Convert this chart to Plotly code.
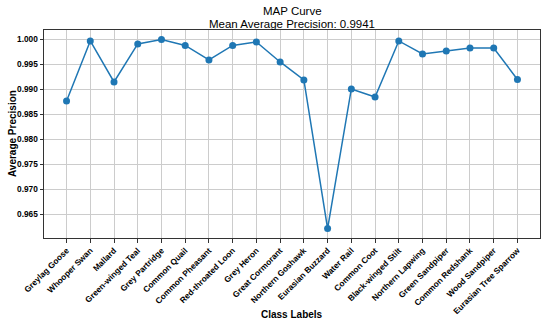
import plotly.graph_objects as go

classes = ["Greylag Goose", "Whooper Swan", "Mallard", "Green-winged Teal", "Grey Partridge",
           "Common Quail", "Common Pheasant", "Red-throated Loon", "Grey Heron", "Great Cormorant",
           "Northern Goshawk", "Eurasian Buzzard", "Water Rail", "Common Coot", "Black-winged Stilt",
           "Northern Lapwing", "Green Sandpiper", "Common Redshank", "Wood Sandpiper", "Eurasian Tree Sparrow"]
ap_values = [0.9877, 0.9997, 0.9915, 0.9991, 1.0000,
             0.9988, 0.9959, 0.9988, 0.9995, 0.9955,
             0.9919, 0.9622, 0.9901, 0.9885, 0.9997,
             0.9971, 0.9977, 0.9983, 0.9983, 0.9920]
mean_ap = 0.9941
y_ticks = [0.965, 0.970, 0.975, 0.980, 0.985, 0.990, 0.995, 1.000]

idx = list(range(len(classes)))
ymin, ymax = min(ap_values), max(ap_values)
pad = (ymax - ymin) * 0.05
xpad = (len(classes) - 1) * 0.05

W, H = 550, 328
L, R, T, B = 44, 10, 30, 90
pw, ph = W - L - R, H - T - B


def px_x(x):
    return (x - L) / pw


def px_y(y):
    return (H - B - y) / ph


fig = go.Figure(go.Scatter(
    x=idx, y=ap_values, mode="lines+markers",
    line=dict(color="#1f77b4", width=1.5),
    marker=dict(color="#1f77b4", size=7),
))

font = "Liberation Sans, Arial, sans-serif"
fig.update_layout(
    width=W, height=H,
    margin=dict(l=L, r=R, t=T, b=B, autoexpand=False),
    paper_bgcolor="white", plot_bgcolor="white",
    font=dict(family=font, color="black"),
    showlegend=False,
    annotations=[
        dict(text="MAP Curve", xref="paper", yref="paper", x=0.5, y=px_y(11),
             xanchor="center", yanchor="middle", showarrow=False,
             font=dict(size=11.5, family=font, color="black")),
        dict(text="Mean Average Precision: %.4f" % mean_ap, xref="paper", yref="paper",
             x=0.5, y=px_y(23.5), xanchor="center", yanchor="middle", showarrow=False,
             font=dict(size=11.5, family=font, color="black")),
        dict(text="<b>Class Labels</b>", xref="paper", yref="paper", x=0.5, y=px_y(314),
             xanchor="center", yanchor="middle", showarrow=False,
             font=dict(size=10, family=font, color="black")),
        dict(text="<b>Average Precision</b>", xref="paper", yref="paper", x=px_x(12), y=0.5,
             xanchor="center", yanchor="middle", textangle=-90, showarrow=False,
             font=dict(size=10, family=font, color="black")),
    ],
)
fig.update_xaxes(
    range=[-xpad, len(classes) - 1 + xpad], automargin=False,
    tickmode="array", tickvals=idx, ticktext=["<b>%s</b>" % c for c in classes],
    tickangle=-45, tickfont=dict(size=8.3, family=font),
    ticks="outside", ticklen=3.5, tickcolor="#333333",
    showgrid=True, gridcolor="#cccccc", gridwidth=0.8,
    showline=True, linecolor="#333333", linewidth=1, mirror=True, zeroline=False,
)
fig.update_yaxes(
    range=[ymin - pad, ymax + pad], automargin=False,
    tickmode="array", tickvals=y_ticks, ticktext=["<b>%.3f</b>" % t for t in y_ticks],
    tickfont=dict(size=8.3, family=font),
    ticks="outside", ticklen=3.5, tickcolor="#333333",
    showgrid=True, gridcolor="#cccccc", gridwidth=0.8,
    showline=True, linecolor="#333333", linewidth=1, mirror=True, zeroline=False,
)

fig.write_html("out.html", config={"displayModeBar": False},
               post_script="document.body.style.margin='0';document.body.style.padding='0';")
